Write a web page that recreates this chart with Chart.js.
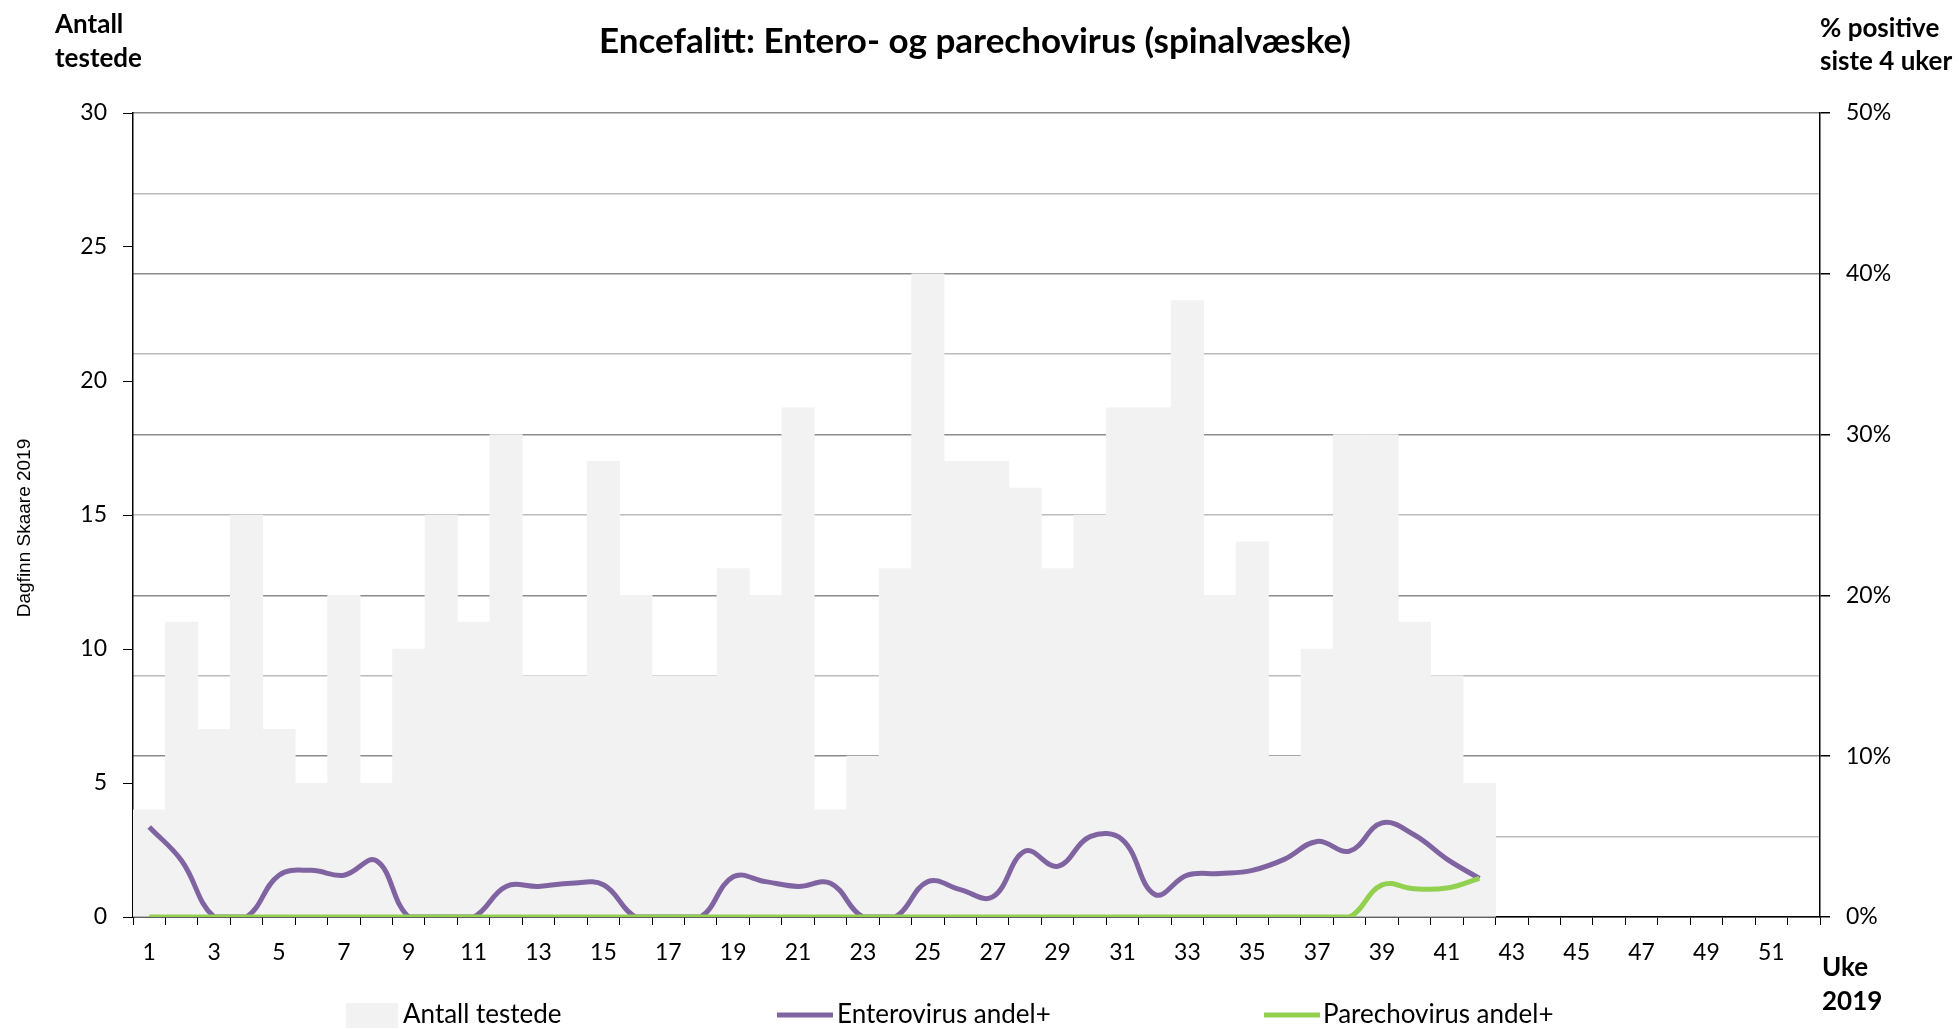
<!DOCTYPE html>
<html>
<head>
<meta charset="utf-8">
<script src="https://cdn.jsdelivr.net/npm/chart.js@4.4.1/dist/chart.umd.min.js"></script>
<style>
  html, body { margin: 0; padding: 0; background: #fff; }
</style>
</head>
<body>
<canvas id="chart" width="1959" height="1029"></canvas>
<script>
// week numbers on the x axis
const weeks = ["1","2","3","4","5","6","7","8","9","10","11","12","13","14","15","16","17","18","19","20",
  "21","22","23","24","25","26","27","28","29","30","31","32","33","34","35","36","37","38","39","40",
  "41","42","43","44","45","46","47","48","49","50","51","52"];

// number tested per week (left axis)
const antallTestede = [4, 11, 7, 15, 7, 5, 12, 5, 10, 15, 11, 18, 9, 9, 17, 12, 9, 9, 13, 12,
  19, 4, 6, 13, 24, 17, 17, 16, 13, 15, 19, 19, 23, 12, 14, 6, 10, 18, 18, 11, 9, 5];

// % positive last 4 weeks (right axis)
const enterovirus = [5.6, 3.5, 0, 0, 2.6, 2.9, 2.6, 3.5, 0, 0, 0, 1.9, 1.9, 2.1, 2.0, 0, 0, 0, 2.5, 2.2,
  1.9, 2.1, 0, 0, 2.2, 1.7, 1.25, 4.1, 3.15, 5.0, 4.8, 1.4, 2.6, 2.7, 2.9, 3.6, 4.7, 4.1, 5.85, 5.1, 3.6, 2.4];
const parechovirus = [0, 0, 0, 0, 0, 0, 0, 0, 0, 0, 0, 0, 0, 0, 0, 0, 0, 0, 0, 0,
  0, 0, 0, 0, 0, 0, 0, 0, 0, 0, 0, 0, 0, 0, 0, 0, 0, 0, 2.0, 1.75, 1.8, 2.4];

const FONT = "Lato";

// titles, side notes and the legend row
const textPlugin = {
  id: "texts",
  afterDraw(chart) {
    const c = chart.ctx;
    c.save();
    c.fillStyle = "#000";
    c.textBaseline = "middle";

    c.font = "bold 35px " + FONT;
    c.textAlign = "center";
    c.fillText("Encefalitt: Entero- og parechovirus (spinalvæske)", 975, 42);

    c.font = "bold 26px " + FONT;
    c.textAlign = "left";
    c.fillText("Antall", 55, 25);
    c.fillText("testede", 55, 59);
    c.fillText("% positive", 1820, 29);
    c.fillText("siste 4 uker", 1820, 62);
    c.fillText("Uke", 1822, 968);
    c.fillText("2019", 1822, 1002);

    c.save();
    c.translate(25, 528);
    c.rotate(-Math.PI / 2);
    c.textAlign = "center";
    c.font = "19px 'Liberation Sans'";
    c.fillText("Dagfinn Skaare 2019", 0, 0);
    c.restore();

    // legend
    const ds = chart.data.datasets;
    const y = 1015;
    c.font = "26px " + FONT;
    c.textAlign = "left";
    c.fillStyle = ds[0].backgroundColor;
    c.fillRect(346, 1003, 52, 25);
    c.fillStyle = "#000";
    c.fillText(ds[0].label, 403, y);

    c.lineWidth = 5;
    c.strokeStyle = ds[1].borderColor;
    c.beginPath(); c.moveTo(777, y); c.lineTo(833, y); c.stroke();
    c.fillText(ds[1].label, 837, y);

    c.strokeStyle = ds[2].borderColor;
    c.beginPath(); c.moveTo(1264, y); c.lineTo(1320, y); c.stroke();
    c.fillText(ds[2].label, 1323, y);
    c.restore();
  }
};

const tickFont = { family: FONT, size: 23 };

new Chart(document.getElementById("chart"), {
  type: "bar",
  data: {
    labels: weeks,
    datasets: [
      {
        label: "Antall testede",
        data: antallTestede,
        backgroundColor: "#f2f2f2",
        barPercentage: 1,
        categoryPercentage: 1,
        yAxisID: "y",
        order: 3
      },
      {
        type: "line",
        label: "Enterovirus andel+",
        data: enterovirus,
        borderColor: "#8064a2",
        borderWidth: 5,
        pointRadius: 0,
        tension: 0.4,
        yAxisID: "y2",
        order: 2
      },
      {
        type: "line",
        label: "Parechovirus andel+",
        data: parechovirus,
        borderColor: "#92d050",
        borderWidth: 5,
        pointRadius: 0,
        tension: 0.4,
        yAxisID: "y2",
        order: 1
      }
    ]
  },
  options: {
    responsive: false,
    animation: false,
    layout: { padding: { top: 113, left: 0, right: 0, bottom: 0 } },
    plugins: { legend: { display: false }, tooltip: { enabled: false } },
    scales: {
      x: {
        offset: true,
        grid: { offset: true, drawOnChartArea: false, tickLength: 8, color: "#000" },
        border: { color: "#000", width: 1.5 },
        ticks: {
          autoSkip: false, maxRotation: 0, minRotation: 0, padding: 14,
          color: "#000", font: tickFont,
          callback(v, i) { return i % 2 === 0 ? this.getLabelForValue(v) : ""; }
        },
        afterFit(s) { s.height = 112; }
      },
      y: {
        position: "left",
        min: 0, max: 30,
        ticks: { stepSize: 5, padding: 16, color: "#000", font: tickFont },
        grid: { drawOnChartArea: false, tickLength: 10, color: "#000" },
        border: { color: "#000", width: 1.5 },
        afterFit(s) { s.width = 133; }
      },
      y2: {
        position: "right",
        min: 0, max: 50,
        ticks: {
          stepSize: 5, padding: 16, color: "#000", font: tickFont,
          callback: v => (v % 10 === 0 ? v + "%" : "")
        },
        grid: {
          tickLength: 10,
          color: ctx => (ctx.tick && ctx.tick.value % 10 === 0 ? "#8c8c8c" : "#bcbcbc"),
          tickColor: ctx => (ctx.tick && ctx.tick.value % 10 === 0 ? "#000" : "rgba(0,0,0,0)"),
          lineWidth: 1.5
        },
        border: { color: "#000", width: 1.5 },
        afterFit(s) { s.width = 139; }
      }
    }
  },
  plugins: [textPlugin]
});
</script>
</body>
</html>
